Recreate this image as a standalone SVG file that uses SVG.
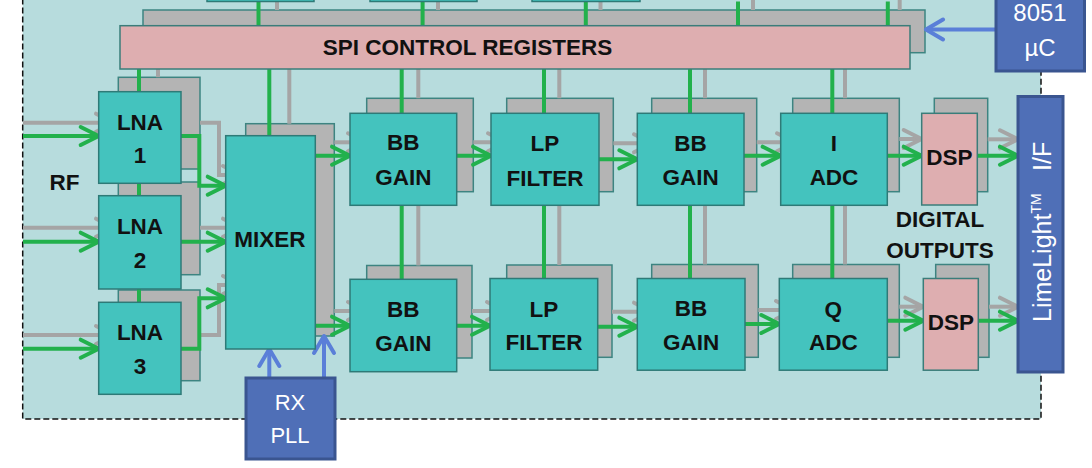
<svg xmlns="http://www.w3.org/2000/svg" width="1092" height="468" viewBox="0 0 1092 468">
<style>
.bg{fill:#b7dcdd;stroke:#111;stroke-width:1.5;stroke-dasharray:6 3}
.back{fill:#b4b4b4;stroke:#3d8481;stroke-width:1.5}
.blk{fill:#44c3be;stroke:#2e7a77;stroke-width:1.5}
.pink{fill:#deaeb0;stroke:#3a7d7a;stroke-width:1.5}
.blue{fill:#4f6fb7;stroke:#3a5590;stroke-width:3}
.g{fill:none;stroke:#22b14c;stroke-width:4}
.ga{fill:none;stroke:#22b14c;stroke-width:4;marker-end:url(#mg)}
.y{fill:none;stroke:#a5a5a5;stroke-width:4}
.ya{fill:none;stroke:#a5a5a5;stroke-width:4;marker-end:url(#my)}
.ba{fill:none;stroke:#5a7fd8;stroke-width:4;marker-end:url(#mb)}
.t{font-family:"Liberation Sans",Arial,sans-serif;font-weight:bold;font-size:22.5px;fill:#111;text-anchor:middle}
.w{font-family:"Liberation Sans",Arial,sans-serif;font-size:22px;fill:#fff;text-anchor:middle}
.w2{font-family:"Liberation Sans",Arial,sans-serif;font-size:24px;fill:#fff;text-anchor:middle}
</style>
<defs>
<marker id="mg" markerUnits="userSpaceOnUse" markerWidth="26" markerHeight="26" viewBox="0 0 26 26" refX="22" refY="13" orient="auto"><path d="M4,4 L22,13 L4,22" fill="none" stroke="#22b14c" stroke-width="4" stroke-linecap="round" stroke-linejoin="round"/></marker>
<marker id="my" markerUnits="userSpaceOnUse" markerWidth="26" markerHeight="26" viewBox="0 0 26 26" refX="22" refY="13" orient="auto"><path d="M4,4 L22,13 L4,22" fill="none" stroke="#a5a5a5" stroke-width="4" stroke-linecap="round" stroke-linejoin="round"/></marker>
<marker id="mb" markerUnits="userSpaceOnUse" markerWidth="26" markerHeight="26" viewBox="0 0 26 26" refX="22" refY="13" orient="auto"><path d="M5,3 L22,13 L5,23" fill="none" stroke="#5a7fd8" stroke-width="4" stroke-linecap="round" stroke-linejoin="round"/></marker>
</defs>
<rect class="bg" x="22.7" y="-10" width="1018.3" height="429"/>
<g id="backs">
<rect class="back" x="143" y="10" width="782" height="42.7"/>
<rect class="back" x="118.3" y="77.3" width="81.7" height="91.7"/>
<rect class="back" x="118.3" y="182" width="81.7" height="92.7"/>
<rect class="back" x="118.3" y="290" width="81.7" height="90.7"/>
<rect class="back" x="245.7" y="123.7" width="88.6" height="212.3"/>
<rect class="back" x="366.7" y="98.3" width="106.6" height="93.4"/>
<rect class="back" x="506.7" y="98.3" width="106.6" height="93.4"/>
<rect class="back" x="651.7" y="98.3" width="105" height="93.4"/>
<rect class="back" x="792.7" y="98.3" width="106.6" height="93.4"/>
<rect class="back" x="934.3" y="98.3" width="53.4" height="93.4"/>
<rect class="back" x="366.7" y="265.5" width="105.3" height="92.5"/>
<rect class="back" x="506.7" y="265" width="105.3" height="92.3"/>
<rect class="back" x="651.7" y="264.5" width="106.6" height="92.8"/>
<rect class="back" x="792.7" y="264.5" width="106.6" height="92.8"/>
<rect class="back" x="935.7" y="264.5" width="53.3" height="92.8"/>
</g>
<g id="connectors">
<path class="g" d="M258.5,1.5V25.7M422.6,1.5V25.7M585.8,1.5V25.7M738,1.5V25.7M887.8,1.5V25.7"/>
<path class="y" d="M277,1.5V10M438,1.5V10M600.5,1.5V10M753,0V10M899.7,0V10"/>
<path class="g" d="M139,69V302.3M269.3,69V135.7M401.7,69V113.3M544,69V113.3M690,69V113.3M832.3,69V113.3"/>
<path class="y" d="M158,69V77.3M289.3,69V123.7M418.3,69V98.3M559.3,69V98.3M705,69V98.3M845,69V98.3"/>
<path class="g" d="M401.7,205.3V279.3M544,205.3V278.5M690,205.3V278.5M832.3,205.3V278.5"/>
<path class="y" d="M418.3,191.7V265.5M559.3,191.7V265M705,191.7V264.5M845,191.7V264.5"/>
<path class="ya" d="M23,122.7H114"/>
<path class="ga" d="M23,136H98.7"/>
<path class="ya" d="M23,227.7H114"/>
<path class="ga" d="M23,241.7H98.7"/>
<path class="ya" d="M23,335H114"/>
<path class="ga" d="M23,348.7H98.7"/>
<path class="ya" d="M200,122.7H219V175H241"/>
<path class="ga" d="M181,136H199.3V185.7H225.7"/>
<path class="ya" d="M200,227.7H241"/>
<path class="ga" d="M181,241.7H225.7"/>
<path class="ya" d="M200,335H219V285H241"/>
<path class="ga" d="M181,348.7H199.3V298.3H225.7"/>
<path class="ya" d="M334.3,142.3H366"/>
<path class="ga" d="M315.3,155.7H350"/>
<path class="ya" d="M473.3,142.3H506"/>
<path class="ga" d="M456.7,155.7H491"/>
<path class="ya" d="M613.3,143.3H652"/>
<path class="ga" d="M599,159.3H637.3"/>
<path class="ya" d="M756.7,142.3H795"/>
<path class="ga" d="M744,155.7H780.7"/>
<path class="ya" d="M899.3,139H921.7"/>
<path class="ga" d="M887.3,155.7H921.7"/>
<path class="ya" d="M987.7,139.3H1018"/>
<path class="ga" d="M977.3,155.7H1018"/>
<path class="ya" d="M334.3,311H366"/>
<path class="ga" d="M315.3,325.7H350"/>
<path class="ya" d="M472,311H505"/>
<path class="ga" d="M456.7,325.7H490"/>
<path class="ya" d="M612,311.7H652"/>
<path class="ga" d="M597.7,326.7H637.3"/>
<path class="ya" d="M758.3,310H794"/>
<path class="ga" d="M745,324H779.3"/>
<path class="ya" d="M899.3,306.7H923.3"/>
<path class="ga" d="M887.3,320.7H923.3"/>
<path class="ya" d="M989,306.7H1018"/>
<path class="ga" d="M978.3,320.7H1018"/>
<path class="ba" d="M996,29.5H926"/>
<path class="ba" d="M269.3,378V349"/>
<path class="ba" d="M324,378V336"/>
</g>
<g id="top-blocks">
<rect class="blk" x="207" y="-10" width="107" height="11.5"/>
<rect class="blk" x="370" y="-10" width="107" height="11.5"/>
<rect class="blk" x="532" y="-10" width="108" height="11.5"/>
</g>
<g id="spi">
<rect class="pink" x="120" y="25.7" width="790" height="43.3"/>
<text class="t" x="467.5" y="55">SPI CONTROL REGISTERS</text>
</g>
<g id="mcu">
<rect class="blue" x="996" y="-6" width="88.5" height="77"/>
<text class="w2" x="1040" y="21">8051</text>
<text class="w2" x="1040" y="56">µC</text>
</g>
<g id="lna1">
<rect class="blk" x="98.7" y="91.7" width="82.3" height="91.6"/>
<text class="t" x="140" y="130">LNA</text>
<text class="t" x="140" y="163">1</text>
</g>
<g id="lna2">
<rect class="blk" x="98.7" y="195.7" width="82.3" height="93.3"/>
<text class="t" x="140" y="234">LNA</text>
<text class="t" x="140" y="268">2</text>
</g>
<g id="lna3">
<rect class="blk" x="98.7" y="302.3" width="82.3" height="92"/>
<text class="t" x="140" y="340">LNA</text>
<text class="t" x="140" y="374">3</text>
</g>
<g id="mixer">
<rect class="blk" x="225.7" y="135.7" width="89.6" height="213.3"/>
<text class="t" x="270" y="247">MIXER</text>
</g>
<g id="rxpll">
<rect class="blue" x="246" y="378" width="89" height="81"/>
<text class="w" x="290" y="410">RX</text>
<text class="w" x="290" y="443">PLL</text>
</g>
<g id="bb-gain-i1">
<rect class="blk" x="350" y="113.3" width="106.7" height="92"/>
<text class="t" x="403.3" y="150">BB</text>
<text class="t" x="403.3" y="185">GAIN</text>
</g>
<g id="lp-filter-i">
<rect class="blk" x="491" y="113.3" width="108" height="92"/>
<text class="t" x="545" y="151">LP</text>
<text class="t" x="545" y="185.5">FILTER</text>
</g>
<g id="bb-gain-i2">
<rect class="blk" x="637.3" y="113.3" width="106.7" height="92"/>
<text class="t" x="690.6" y="150.5">BB</text>
<text class="t" x="690.6" y="185">GAIN</text>
</g>
<g id="i-adc">
<rect class="blk" x="780.7" y="113.3" width="106.6" height="92"/>
<text class="t" x="834" y="150.5">I</text>
<text class="t" x="834" y="185">ADC</text>
</g>
<g id="dsp-i">
<rect class="pink" x="921.7" y="113.3" width="55.6" height="91.7"/>
<text class="t" x="949.5" y="165">DSP</text>
</g>
<g id="bb-gain-q1">
<rect class="blk" x="350" y="279.3" width="106.7" height="92.4"/>
<text class="t" x="403.3" y="316.5">BB</text>
<text class="t" x="403.3" y="351">GAIN</text>
</g>
<g id="lp-filter-q">
<rect class="blk" x="490" y="278.5" width="107.7" height="91.7"/>
<text class="t" x="544" y="316.5">LP</text>
<text class="t" x="544" y="350">FILTER</text>
</g>
<g id="bb-gain-q2">
<rect class="blk" x="637.3" y="278.5" width="107.7" height="91.7"/>
<text class="t" x="691" y="315.5">BB</text>
<text class="t" x="691" y="350">GAIN</text>
</g>
<g id="q-adc">
<rect class="blk" x="779.3" y="278.5" width="108" height="91.7"/>
<text class="t" x="833.3" y="316.5">Q</text>
<text class="t" x="833.3" y="350">ADC</text>
</g>
<g id="dsp-q">
<rect class="pink" x="923.3" y="278.5" width="55" height="91.7"/>
<text class="t" x="950.8" y="330">DSP</text>
</g>
<g id="limelight">
<rect class="blue" x="1018" y="96.5" width="45" height="275.5"/>
<text transform="translate(1050.5,322) rotate(-90)" font-family="Liberation Sans, Arial, sans-serif" font-size="25" fill="#fff">LimeLight<tspan font-size="14" dy="-10">TM</tspan><tspan x="151" dy="10">I/F</tspan></text>
</g>
<g id="labels">
<text class="t" x="64.5" y="190">RF</text>
<text class="t" x="940" y="226.7">DIGITAL</text>
<text class="t" x="940" y="258.3">OUTPUTS</text>
</g>
</svg>
